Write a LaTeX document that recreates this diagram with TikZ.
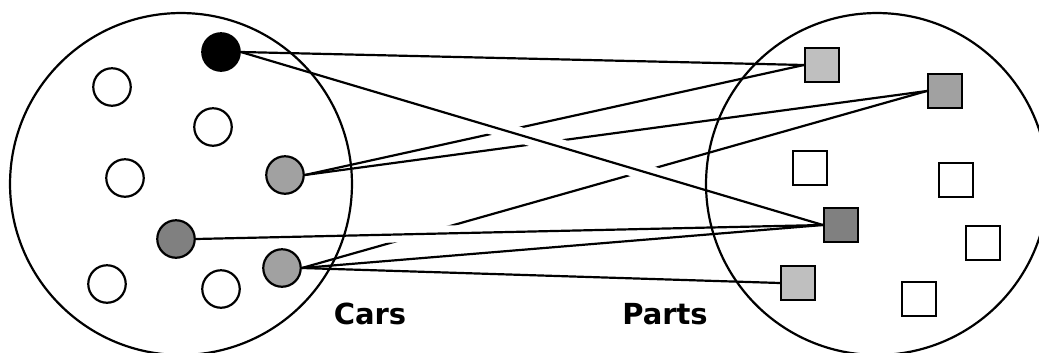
\documentclass[tikz,border=0pt]{standalone}
\usepackage{fontspec}
\setsansfont{DejaVu Sans}

\begin{document}
\begin{tikzpicture}[
        x=0.02cm, y=-0.02cm,
        set/.style={line width=1.25pt, draw=black},
        car/.style={circle, draw=black, line width=1.25pt, minimum size=0.75cm, inner sep=0pt},
        part/.style={rectangle, draw=black, line width=1.25pt, minimum size=0.68cm, inner sep=0pt},
        link/.style={line width=1.25pt, draw=black},
        over/.style 2 args={preaction={draw=white, line width=9pt, shorten <=#1, shorten >=#2}},
        lbl/.style={font=\sffamily\bfseries\fontsize{16.5}{18}\selectfont},
    ]
    \useasboundingbox (0,0) rectangle (1039,352);

    % the two sets
    \draw[set] (181,184) circle [radius=3.42cm];
    \draw[set] (877,184) circle [radius=3.42cm];

    % cars
    \node[car, fill=black] (ca) at (221,52) {};
    \node[car, fill=black!37] (cb) at (285,175) {};
    \node[car, fill=black!50] (cc) at (176,239) {};
    \node[car, fill=black!37] (cd) at (282,268) {};
    \foreach \x/\y [count=\i] in {112/87, 213/127, 125/178, 107/284, 221/289}
        \node[car, fill=white] (cw\i) at (\x,\y) {};

    % parts
    \node[part, fill=black!25] (pa) at (822,65) {};
    \node[part, fill=black!37] (pb) at (945,91) {};
    \node[part, fill=black!50] (pc) at (841,225) {};
    \node[part, fill=black!25] (pd) at (798,283) {};
    \foreach \x/\y [count=\i] in {810/168, 956/180, 983/243, 919/299}
        \node[part, fill=white] (pw\i) at (\x,\y) {};

    % links, the ones passing under first
    \draw[link] (cb.east) -- (pa.west);
    \draw[link] (cb.east) -- (pb.west);
    \draw[link] (cd.east) -- (pb.west);
    \draw[link] (ca.east) -- (pa.west);
    \draw[link] (cd.east) -- (pc.west);
    \draw[link] (cd.east) -- (pd.west);

    % links passing over, with a white gap
    \draw[link, over={2.2cm}{2.9cm}] (ca.east) -- (pc.west);
    \draw[link, over={3.8cm}{4.4cm}] (cc.east) -- (pc.west);

    % labels
    \node[lbl] (cars) at (370,314) {Cars};
    \node[lbl] (parts) at (665,314) {Parts};
\end{tikzpicture}
\end{document}
